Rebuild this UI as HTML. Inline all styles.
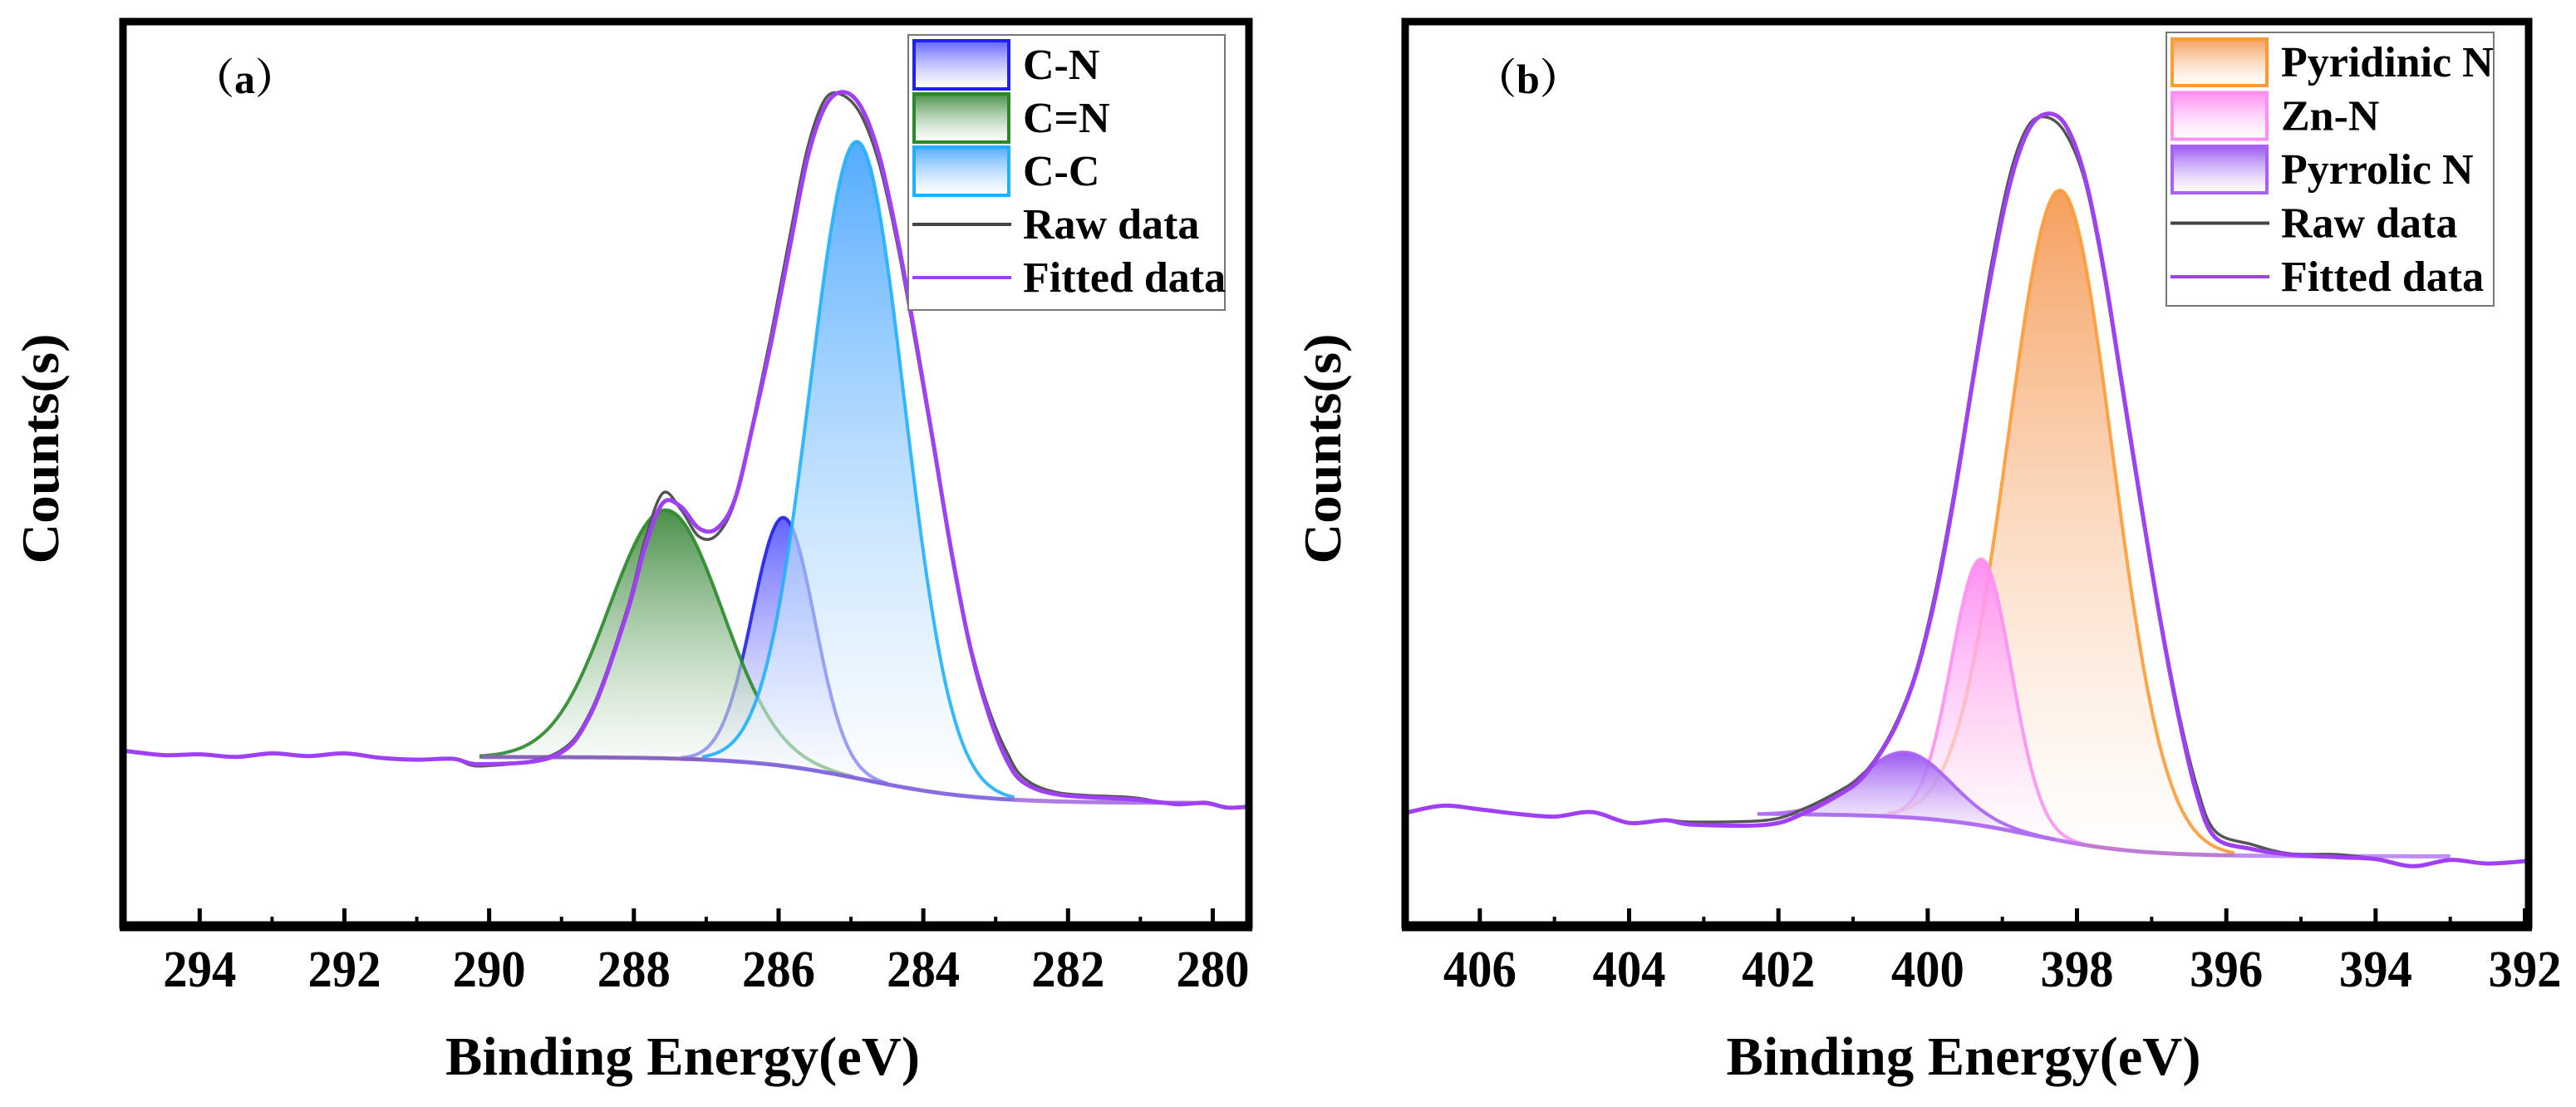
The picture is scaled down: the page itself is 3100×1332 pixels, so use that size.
<!DOCTYPE html>
<html><head><meta charset="utf-8">
<style>
html,body{margin:0;padding:0;background:#fff;}
svg{display:block;}
text{font-family:"Liberation Serif","Noto Serif CJK SC",serif;font-weight:bold;fill:#000;}
</style></head>
<body>
<svg id="chart" width="3100" height="1332" viewBox="0 0 3100 1332" xmlns="http://www.w3.org/2000/svg">
<defs id="defs"></defs>
</svg>
<script>
// ---------- Panel (a) C 1s data ----------
const aTicks = [294, 292, 290, 288, 286, 284, 282, 280];
const aMinor = [293, 291, 289, 287, 285, 283, 281];
const aNames = ["C-N", "C=N", "C-C"];
const aCenters = [285.93, 287.56, 284.91];
const aHeights = [27.5, 27.5, 70.5];
const aSigmas = [0.43, 0.78, 0.65];
const aBg = [18.6, 13.5, 284.8, 0.8]; // high, low, center, width (eV)
const aFitE = [295.06,294.5,294,293.5,293,292.5,292,291.5,291,290.5,290.1,289.1,288.6,288.1,287.85,287.6,287.35,287.1,286.85,286.6,286.35,286.1,285.85,285.6,285.35,285.1,284.85,284.6,284.35,284.1,283.85,283.6,283.35,283.1,282.85,282.6,282.1,281.1,280.5,280.1,279.8,279.5];
const aFitV = [19.3,18.8,18.9,18.6,19.0,18.7,19.0,18.5,18.3,18.4,17.8,18.7,23.3,34.4,41.7,46.7,46.3,43.9,43.9,47.2,55.5,64.6,74.8,84.9,90.7,92.2,90.4,84.9,75.7,64.6,52.8,40.8,30.7,23.4,18.3,15.7,14.4,13.9,13.4,13.5,13.0,13.1];
const aRawV = [19.3,18.8,18.9,18.6,19.0,18.7,19.0,18.5,18.3,18.4,17.6,18.9,23.6,34.8,42.5,47.8,46.0,43.0,43.2,47.0,55.8,65.5,76.0,86.0,91.5,91.8,89.5,84.0,75.0,64.0,52.5,40.5,31.0,24.0,19.2,16.2,14.6,14.1,13.3,13.6,13.0,13.1];

// ---------- Panel (b) N 1s data ----------
const bTicks = [406, 404, 402, 400, 398, 396, 394, 392];
const bMinor = [405, 403, 401, 399, 397, 395, 393];
const bNames = ["Pyridinic N", "Zn-N", "Pyrrolic N"];
const bCenters = [398.22, 399.28, 400.3];
const bHeights = [72.0, 29.5, 7.2];
const bSigmas = [0.70, 0.40, 0.60];
const bBg = [12.3, 7.6, 398.6, 0.7];
const bFitE = [407,406.5,406,405.5,405,404.5,404,403.5,403.15,402.15,401.65,401.15,400.9,400.65,400.4,400.15,399.9,399.65,399.4,399.15,398.9,398.65,398.4,398.15,397.9,397.65,397.4,397.15,396.9,396.65,396.4,396.15,395.65,395.15,394.5,394,393.5,393,392.5,391.95];
const bFitV = [12.4,13.2,12.8,12.3,12.0,12.5,11.3,11.6,11.1,11.1,12.4,14.6,16.1,18.8,22.5,28,36.2,47.2,60,72,82,88,89.8,88.5,83,73,60,47,34.5,23.5,14.6,9.7,8.4,7.8,7.5,7.3,6.5,7.2,6.8,7.1];
const bRawV = [12.4,13.2,12.8,12.3,12.0,12.5,11.3,11.6,11.4,11.6,12.9,15.0,16.4,19.0,22.8,28.3,36.8,47.8,60.5,73.0,83.0,88.5,89.4,87.6,82.5,72.5,59.5,46.5,34.8,24.0,15.5,10.4,8.9,7.9,7.8,7.3,6.5,7.2,6.8,7.1];

const NS = "http://www.w3.org/2000/svg";
const svg = document.getElementById("chart");
const defs = document.getElementById("defs");
function mk(tag, attrs, parent) {
  const e = document.createElementNS(NS, tag);
  for (const k in attrs) e.setAttribute(k, attrs[k]);
  (parent || svg).appendChild(e);
  return e;
}
function grad(id, color) {
  const g = mk("linearGradient", {id: id, x1: 0, y1: 0, x2: 0, y2: 1}, defs);
  mk("stop", {offset: "0", "stop-color": color, "stop-opacity": "0.95"}, g);
  mk("stop", {offset: "1", "stop-color": "#ffffff", "stop-opacity": "0.5"}, g);
}
function smooth(pts) {
  let d = "M" + pts[0][0].toFixed(1) + "," + pts[0][1].toFixed(1);
  for (let i = 0; i < pts.length - 1; i++) {
    const p0 = pts[Math.max(0, i - 1)], p1 = pts[i], p2 = pts[i + 1], p3 = pts[Math.min(pts.length - 1, i + 2)];
    const c1x = p1[0] + (p2[0] - p0[0]) / 6, c1y = p1[1] + (p2[1] - p0[1]) / 6;
    const c2x = p2[0] - (p3[0] - p1[0]) / 6, c2y = p2[1] - (p3[1] - p1[1]) / 6;
    d += " C" + c1x.toFixed(1) + "," + c1y.toFixed(1) + " " + c2x.toFixed(1) + "," + c2y.toFixed(1) + " " + p2[0].toFixed(1) + "," + p2[1].toFixed(1);
  }
  return d;
}

function panel(cfg) {
  const g = mk("g", {});
  
  
  const X = e => cfg.left + (cfg.e0 - e) / (cfg.e0 - cfg.e1) * (cfg.right - cfg.left);
  const Y = v => cfg.bottom - v * (cfg.bottom - cfg.top) / 100;
  const bg = e => cfg.bg[1] + (cfg.bg[0] - cfg.bg[1]) / (1 + Math.exp(-(e - cfg.bg[2]) / cfg.bg[3]));

  cfg.names.forEach((nm, i) => {
    grad(cfg.id + "g" + i, cfg.fills[i]);
    const c = cfg.centers[i], s = cfg.sigmas[i], h = cfg.heights[i];
    const lo = c - 3.3 * s, hi = c + 3.3 * s;
    let top = [], bot = [];
    for (let k = 0; k <= 120; k++) {
      const e = hi - (hi - lo) * k / 120;
      const v = bg(e) + h * Math.exp(-((e - c) ** 2) / (2 * s * s));
      top.push(X(e).toFixed(1) + "," + Y(v).toFixed(1));
      bot.unshift(X(e).toFixed(1) + "," + Y(bg(e)).toFixed(1));
    }
    const area = mk("polygon", {points: top.concat(bot).join(" "), fill: "url(#" + cfg.id + "g" + i + ")", stroke: "none"}, g);
    
    
    const ln = mk("polyline", {points: top.join(" ") + " " + bot.join(" "), fill: "none", stroke: cfg.strokes[i], "stroke-width": 4, "stroke-opacity": 0.9}, g);
    
    
  });
  let bp = [];
  for (let k = 0; k <= 100; k++) {
    const e = cfg.fitE[10] - (cfg.fitE[10] - cfg.fitE[cfg.fitE.length - 3]) * k / 100;
    bp.push(X(e).toFixed(1) + "," + Y(bg(e)).toFixed(1));
  }
  const bl = mk("polyline", {points: bp.join(" "), fill: "none", stroke: cfg.bgColor, "stroke-width": 5, "stroke-opacity": 0.8}, g);
  
  

  const raw = mk("path", {d: smooth(cfg.fitE.map((e, i) => [X(e), Y(cfg.rawV[i])])), fill: "none", stroke: "#555", "stroke-width": 3.5}, g);
  
  
  const fit = mk("path", {d: smooth(cfg.fitE.map((e, i) => [X(e), Y(cfg.fitV[i])])), fill: "none", stroke: "#a040f5", "stroke-width": 5, "stroke-linejoin": "round"}, g);
  
  

  const fr = mk("rect", {x: cfg.left, y: cfg.top, width: cfg.right - cfg.left, height: cfg.bottom - cfg.top, fill: "none", stroke: "#000", "stroke-width": 9}, g);
  
  
  const ba = mk("line", {x1: cfg.left - 4, x2: cfg.right + 4, y1: cfg.bottom + 2, y2: cfg.bottom + 2, stroke: "#000", "stroke-width": 11}, g);
  
  

  cfg.ticks.forEach(t => {
    const tk = mk("line", {x1: X(t), x2: X(t), y1: cfg.bottom, y2: cfg.bottom - 20, stroke: "#000", "stroke-width": 5}, g);
    
    
    const tl = mk("text", {x: X(t), y: cfg.bottom + 74, "font-size": 62, "text-anchor": "middle", textLength: 88, lengthAdjust: "spacingAndGlyphs"}, g);
    tl.textContent = String(t);
    
    
  });
  cfg.minor.forEach(t => {
    const tk = mk("line", {x1: X(t), x2: X(t), y1: cfg.bottom, y2: cfg.bottom - 10, stroke: "#000", "stroke-width": 4}, g);
    
    
  });

  const xt = mk("text", {x: (cfg.left + cfg.right) / 2 - 4, y: 1293, "font-size": 66, "text-anchor": "middle", textLength: 571, lengthAdjust: "spacingAndGlyphs"}, g);
  xt.textContent = "Binding Energy(eV)";
  
  
  const yt = mk("text", {x: 0, y: 0, "font-size": 64, "text-anchor": "middle", textLength: 277, lengthAdjust: "spacingAndGlyphs", transform: "translate(" + (cfg.left - 78) + ",540) rotate(-90)"}, g);
  yt.textContent = "Counts(s)";
  
  
  const pl = mk("text", {x: cfg.left + 84, y: 112, "font-size": 50}, g);
  pl.textContent = cfg.label;
  
  

  const lg = mk("g", {}, g);
  
  
  const L = cfg.legend;
  mk("rect", {x: L.x, y: L.y, width: L.w, height: L.h, fill: "#fff", stroke: "#777", "stroke-width": 2}, lg);
  const rows = cfg.names.concat(["Raw data", "Fitted data"]);
  rows.forEach((nm, i) => {
    const cy = L.y + 36 + i * L.step;
    const entry = mk("g", {}, lg);
    
    
    if (i < cfg.names.length) {
      mk("rect", {x: L.x + 7, y: cy - L.sh / 2, width: 114, height: L.sh, fill: "url(#" + cfg.id + "g" + i + ")", stroke: cfg.strokes[i], "stroke-width": 4}, entry);
    } else {
      mk("line", {x1: L.x + 5, x2: L.x + 124, y1: cy, y2: cy, stroke: i === rows.length - 2 ? "#444" : "#a040f5", "stroke-width": 4}, entry);
    }
    const tx = mk("text", {x: L.x + 138, y: cy + 17, "font-size": 52}, entry);
    tx.textContent = nm;
  });
}

panel({id: "a", left: 148, right: 1503, top: 26, bottom: 1113, e0: 295.06, e1: 279.5,
  ticks: aTicks, minor: aMinor, names: aNames, centers: aCenters, heights: aHeights, sigmas: aSigmas, bg: aBg,
  fitE: aFitE, fitV: aFitV, rawV: aRawV,
  fills: ["#5a5aff", "#3f8a3f", "#4aa6ff"], strokes: ["#2020f0", "#2a8a2a", "#20b0ff"], bgColor: "#9a5ad8",
  label: "（a）", legend: {x: 1093, y: 42, w: 381, h: 331, step: 64, sh: 58}});
panel({id: "b", left: 1691, right: 3043, top: 26, bottom: 1113, e0: 407, e1: 391.95,
  ticks: bTicks, minor: bMinor, names: bNames, centers: bCenters, heights: bHeights, sigmas: bSigmas, bg: bBg,
  fitE: bFitE, fitV: bFitV, rawV: bRawV,
  fills: ["#f59a55", "#ff88f2", "#9650f0"], strokes: ["#ff9a35", "#ff90f0", "#a860f5"], bgColor: "#b070f0",
  label: "（b）", legend: {x: 2607, y: 39, w: 394, h: 329, step: 64.5, sh: 56}});
</script>
</body></html>
